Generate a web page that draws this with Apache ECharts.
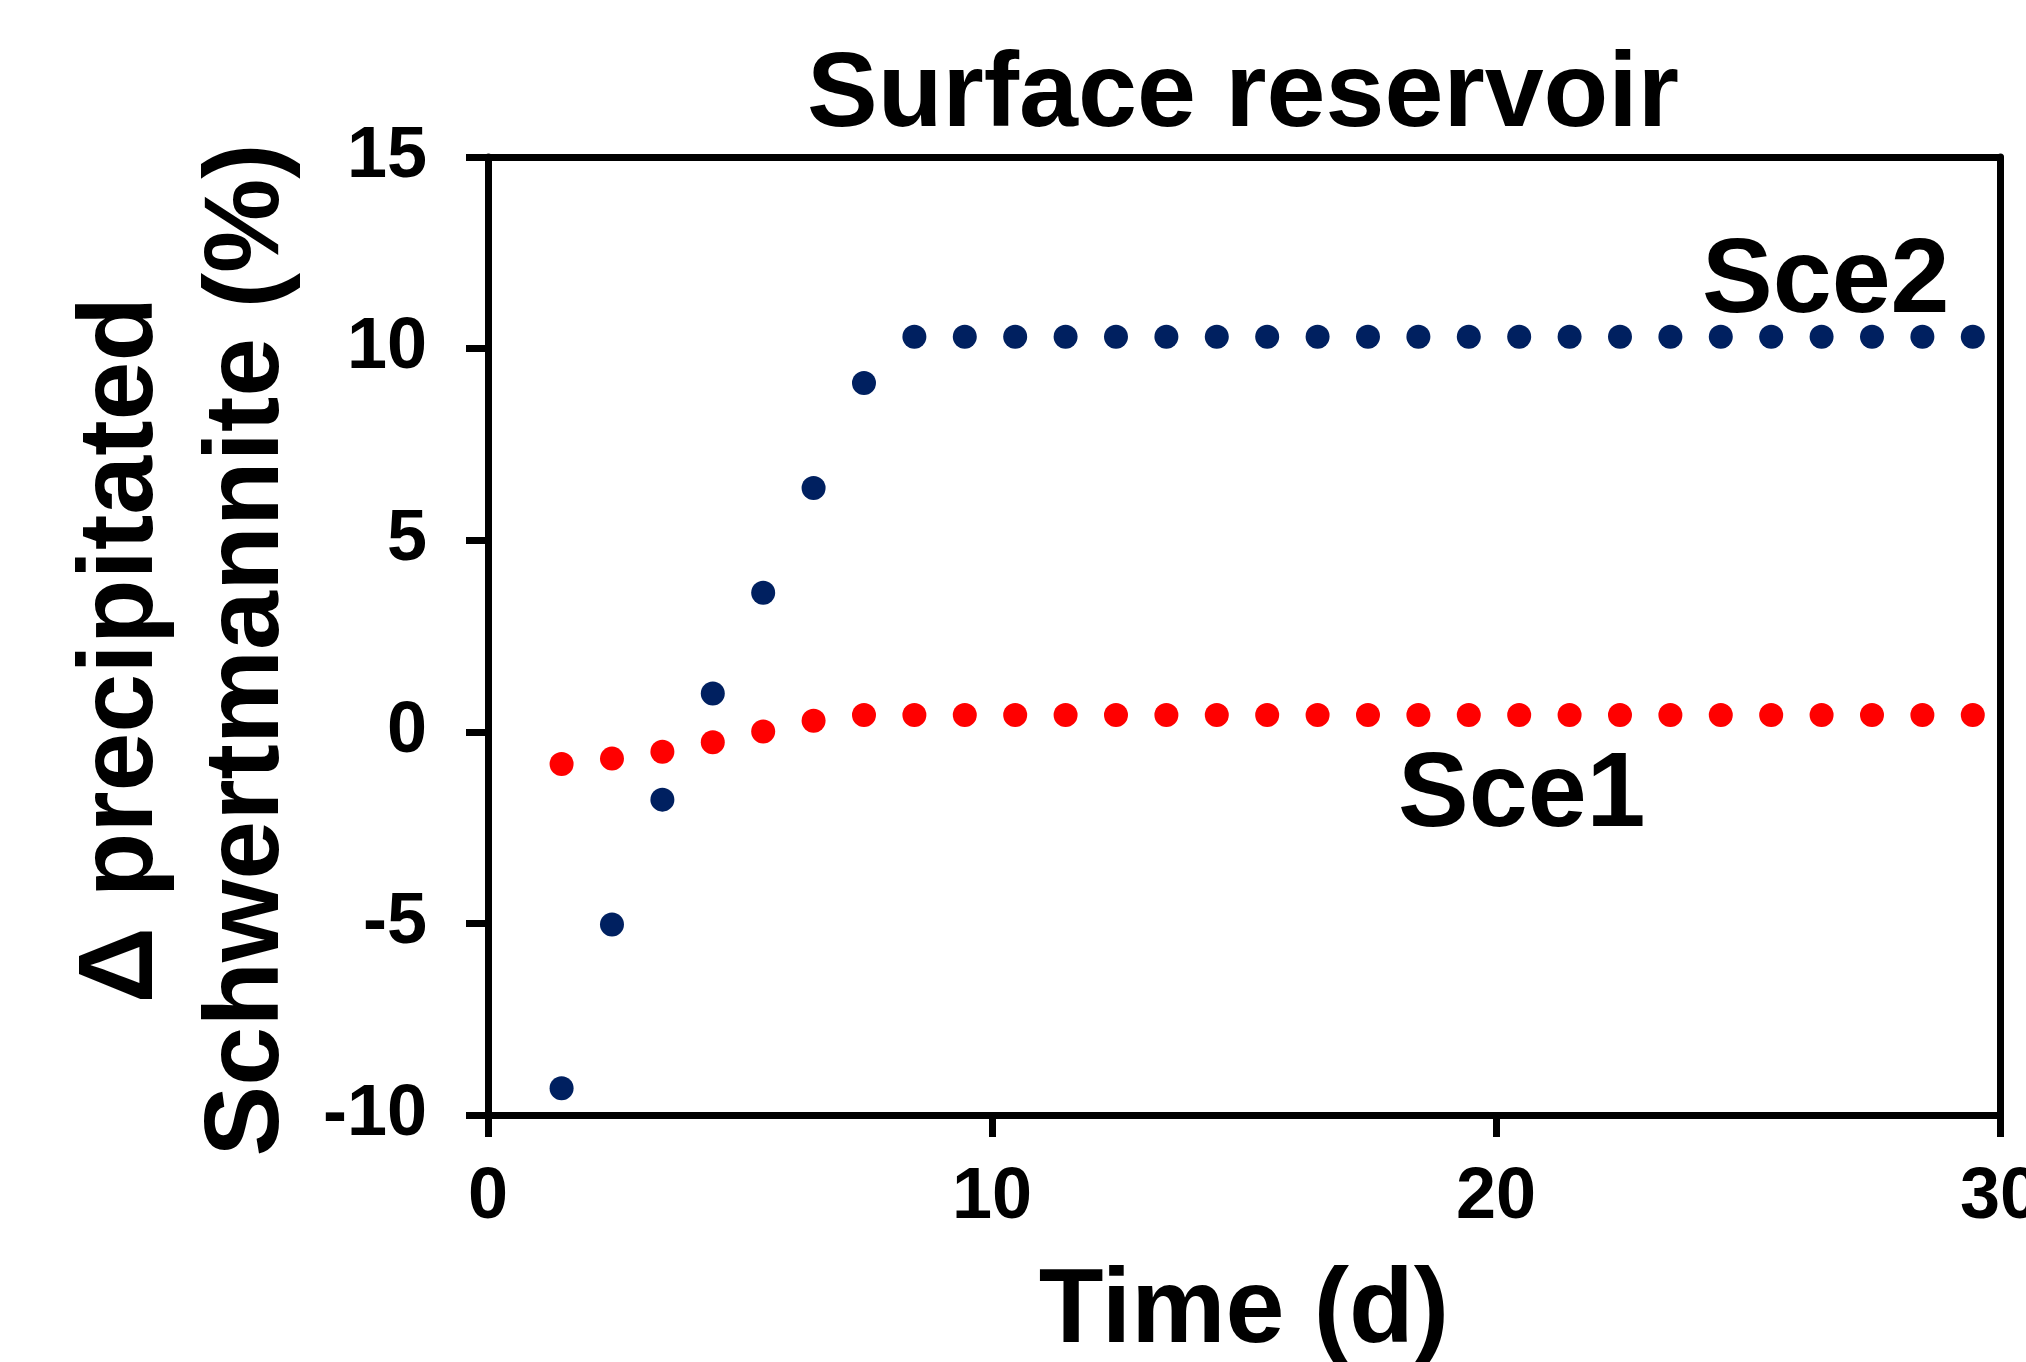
<!DOCTYPE html>
<html>
<head>
<meta charset="utf-8">
<script src="https://cdn.jsdelivr.net/npm/echarts@6/dist/echarts.min.js"></script>
<style>html,body{margin:0;padding:0;background:#fff;}#c{width:2026px;height:1362px;}</style>
</head>
<body>
<div id="c"></div>
<script>
// Data
const timeDays = [1.46, 2.46, 3.46, 4.46, 5.46, 6.46, 7.46, 8.46, 9.46, 10.46,
  11.46, 12.46, 13.46, 14.46, 15.46, 16.46, 17.46, 18.46, 19.46, 20.46,
  21.46, 22.46, 23.46, 24.46, 25.46, 26.46, 27.46, 28.46, 29.46];
const sce1 = [-0.84, -0.70, -0.52, -0.27, 0.01, 0.29, 0.44, 0.44, 0.44, 0.44,
  0.44, 0.44, 0.44, 0.44, 0.44, 0.44, 0.44, 0.44, 0.44, 0.44,
  0.44, 0.44, 0.44, 0.44, 0.44, 0.44, 0.44, 0.44, 0.44];
const sce2 = [-9.30, -5.03, -1.77, 1.00, 3.63, 6.36, 9.10, 10.31, 10.31, 10.31,
  10.31, 10.31, 10.31, 10.31, 10.31, 10.31, 10.31, 10.31, 10.31, 10.31,
  10.31, 10.31, 10.31, 10.31, 10.31, 10.31, 10.31, 10.31, 10.31];
const xTicks = [0, 10, 20, 30];
const yTicks = [-10, -5, 0, 5, 10, 15];
const titleText = 'Surface reservoir';
const xName = 'Time (d)';
const yName = '\u0394 precipitated\nSchwertmannite (%)';
const seriesNames = ['Sce1', 'Sce2'];

const FONT = 'Liberation Sans, Arial, sans-serif';
const LW = 7;
const chart = echarts.init(document.getElementById('c'), null, {renderer: 'canvas'});
const pair = (xs, ys) => xs.map((x, i) => [x, ys[i]]);

chart.setOption({
  animation: false,
  backgroundColor: '#ffffff',
  title: {
    text: titleText,
    left: 802,
    top: 39,
    textStyle: {fontFamily: FONT, fontWeight: 'bold', fontSize: 106, color: '#000'}
  },
  grid: {left: 488, right: 26, top: 157, bottom: 247, containLabel: false, outerBoundsMode: 'none'},
  xAxis: [{
    type: 'value',
    position: 'bottom',
    min: xTicks[0], max: xTicks[xTicks.length - 1], interval: 10,
    name: xName,
    nameLocation: 'middle',
    nameGap: 145,
    nameTextStyle: {fontFamily: FONT, fontWeight: 'bold', fontSize: 106, color: '#000'},
    axisLine: {show: true, onZero: false, lineStyle: {color: '#000', width: LW}},
    axisTick: {show: true, inside: false, length: 22, lineStyle: {color: '#000', width: LW}},
    axisLabel: {show: true, margin: 47, fontFamily: FONT, fontWeight: 'bold', fontSize: 72, color: '#000', hideOverlap: false},
    splitLine: {show: false}
  }, {
    type: 'value',
    position: 'top',
    min: xTicks[0], max: xTicks[xTicks.length - 1], interval: 10,
    axisLine: {show: true, onZero: false, lineStyle: {color: '#000', width: LW}},
    axisTick: {show: false},
    axisLabel: {show: false},
    splitLine: {show: false}
  }],
  yAxis: [{
    type: 'value',
    position: 'left',
    min: yTicks[0], max: yTicks[yTicks.length - 1], interval: 5,
    name: yName,
    nameLocation: 'middle',
    nameGap: 149,
    nameRotate: 90,
    nameTextStyle: {fontFamily: FONT, fontWeight: 'bold', fontSize: 106, lineHeight: 126, color: '#000', padding: [0, 28, 0, 0]},
    axisLine: {show: true, onZero: false, lineStyle: {color: '#000', width: LW}},
    axisTick: {show: true, inside: false, length: 22, lineStyle: {color: '#000', width: LW}},
    axisLabel: {show: true, margin: 61, fontFamily: FONT, fontWeight: 'bold', fontSize: 72, color: '#000'},
    splitLine: {show: false}
  }, {
    type: 'value',
    position: 'right',
    min: yTicks[0], max: yTicks[yTicks.length - 1], interval: 5,
    axisLine: {show: true, onZero: false, lineStyle: {color: '#000', width: LW}},
    axisTick: {show: false},
    axisLabel: {show: false},
    splitLine: {show: false}
  }],
  series: [{
    name: seriesNames[0],
    type: 'scatter',
    symbol: 'circle',
    symbolSize: 24,
    itemStyle: {color: '#FF0000', opacity: 1},
    data: pair(timeDays, sce1),
    z: 2
  }, {
    name: seriesNames[1],
    type: 'scatter',
    symbol: 'circle',
    symbolSize: 24,
    itemStyle: {color: '#002060', opacity: 1},
    data: pair(timeDays, sce2),
    z: 3
  }],
  graphic: [{
    type: 'text',
    left: 1702, top: 230,
    style: {text: seriesNames[1], font: 'bold 106px ' + FONT, fill: '#000'}
  }, {
    type: 'text',
    left: 1398, top: 744,
    style: {text: seriesNames[0], font: 'bold 106px ' + FONT, fill: '#000'}
  }]
});
</script>
</body>
</html>
